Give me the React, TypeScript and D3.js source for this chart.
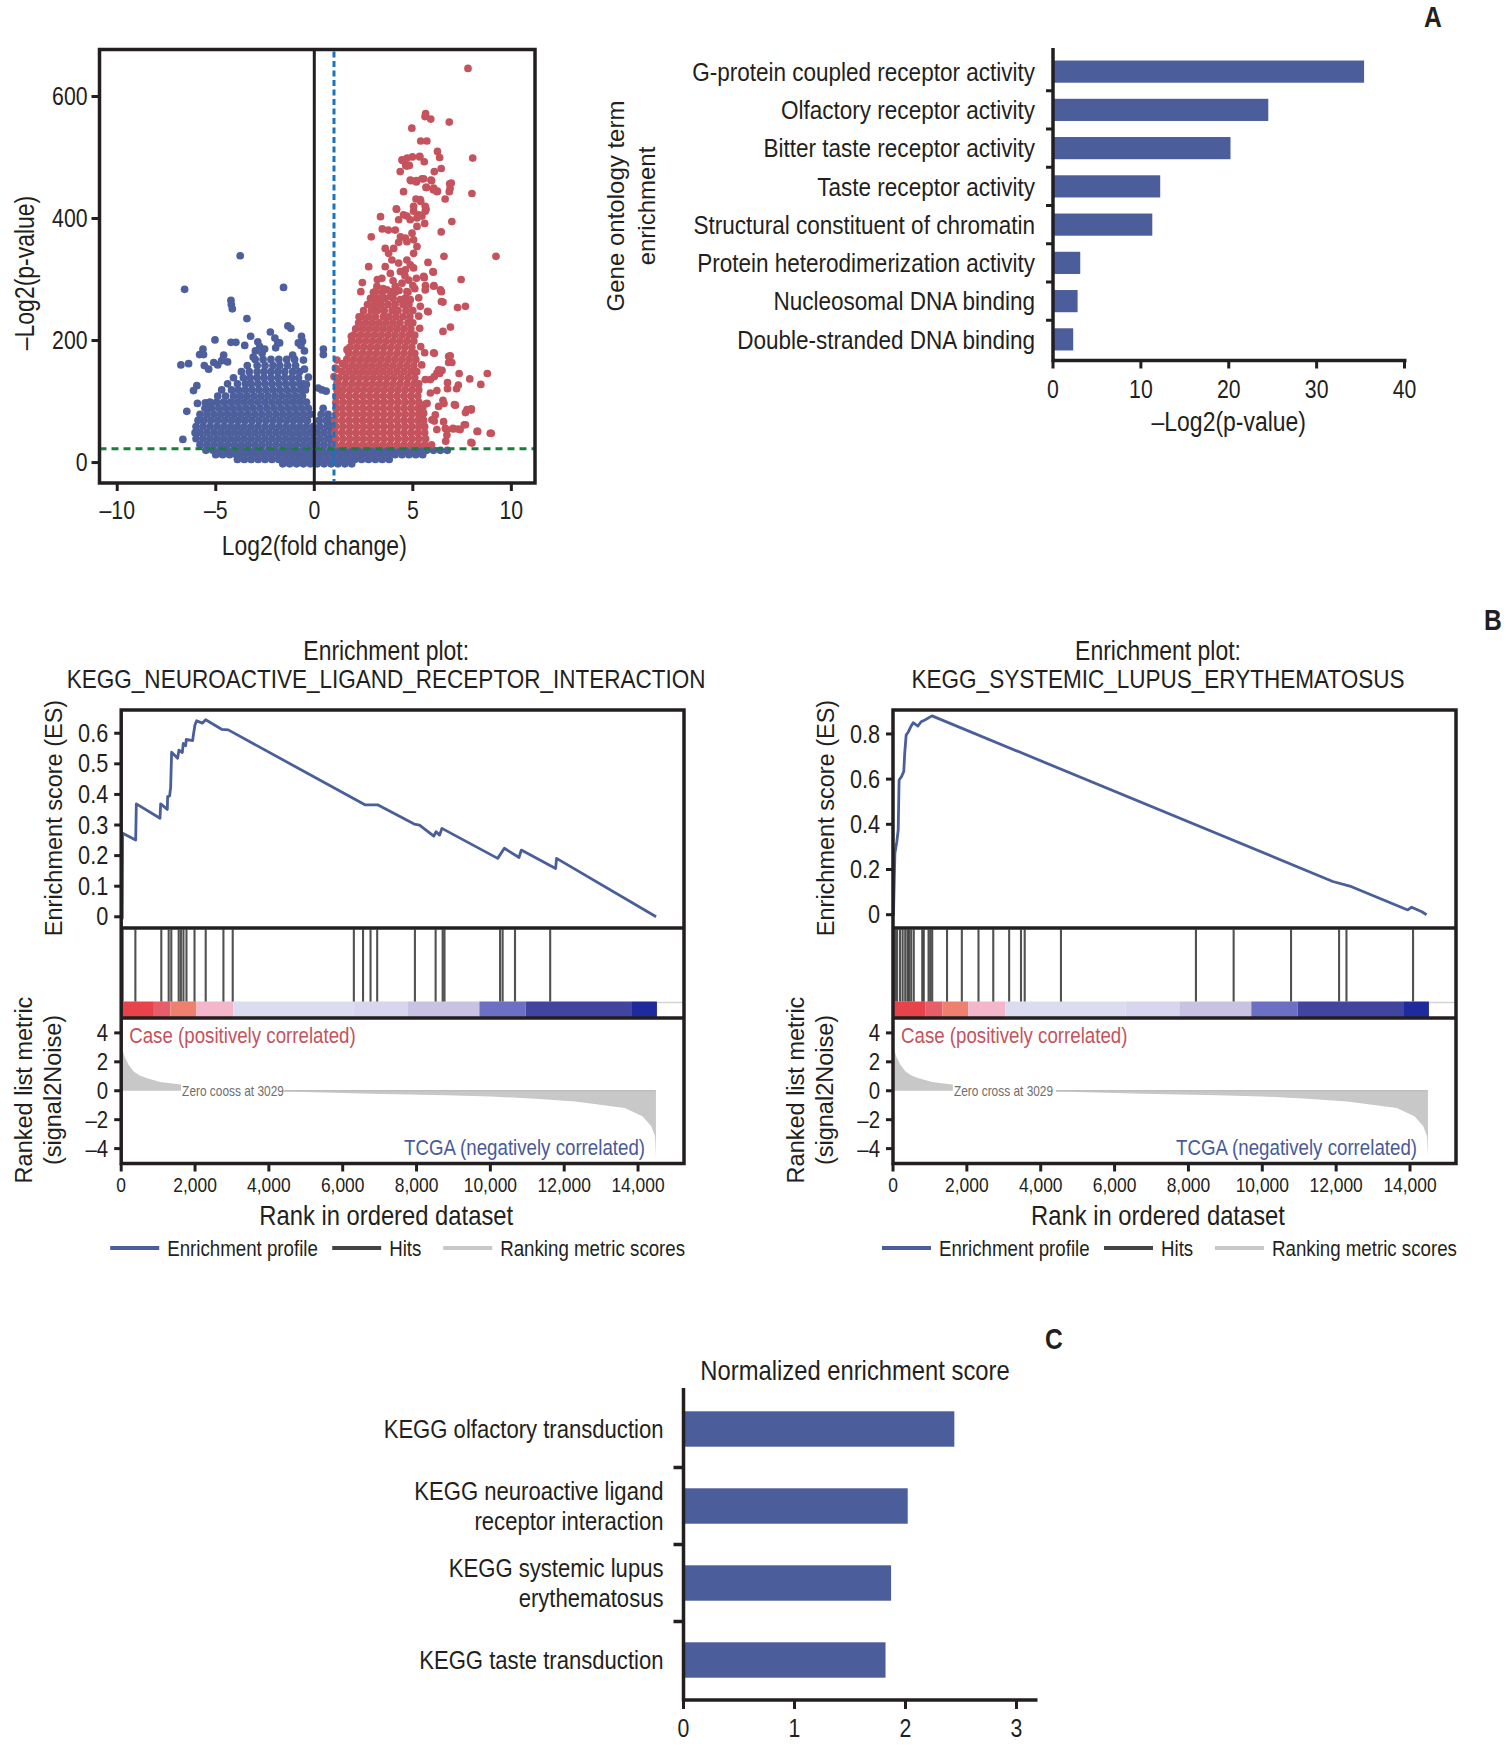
import React from "react";
import * as d3 from "d3";

const FONT = "'Liberation Sans',Arial,'DejaVu Sans',sans-serif";
const INK = "#231f20";
const BAR = "#4b5e9b";
const BLUE = "#4d5f9d";
const RED = "#c4535d";
const ESLINE = "#4a5f9a";
const GREY = "#c8c8c8";
const NARROW_SCALE = 0.85;

// ---------------- Panel A: volcano ----------------
const volcanoXTicks = [-10, -5, 0, 5, 10];
const volcanoYTicks = [0, 200, 400, 600];
const foldThreshold = 1;
const pThreshold = 22.6;

// dense rows of the blue (not up-regulated) cloud: [log2p, [log2fc...]]
const blueRows: [number, number[]][] = [
  [-2, [-1.6, -1.25, -0.9, -0.55, -0.2, 0.15, 0.5, 0.85, 1.2, 1.55, 1.9]],
  [5, [-3.9, -3.55, -3.2, -2.85, -2.5, -2.15, -1.8, -1.45, -1.1, -0.75, -0.4, -0.05, 0.3, 0.65, 1.0, 1.35, 1.7, 2.05, 2.4, 2.75, 3.1, 3.45, 3.8]],
  [13, [-5.0, -4.65, -4.3, -3.95, -3.6, -3.25, -2.9, -2.55, -2.2, -1.85, -1.5, -1.15, -0.8, -0.45, -0.1, 0.25, 0.6, 0.95, 1.3, 1.65, 2.0, 2.35, 2.7, 3.05, 3.4, 3.75, 4.1, 4.45, 4.8, 5.15, 5.5]],
  [20, [-5.5, -5.15, -4.8, -4.45, -4.1, -3.75, -3.4, -3.05, -2.7, -2.35, -2.0, -1.65, -1.3, -0.95, -0.6, -0.25, 0.1, 0.45, 0.8, 1.15, 1.5, 1.85, 2.2, 2.55, 2.9, 3.25, 3.6, 3.95, 4.3, 4.65, 5.0, 5.35, 5.7, 6.05, 6.4, 6.75]],
  [29, [-5.8, -5.45, -5.1, -4.75, -4.4, -4.05, -3.7, -3.35, -3.0, -2.65, -2.3, -1.95, -1.6, -1.25, -0.9, -0.55, -0.2, 0.15, 0.5, 0.85]],
  [39, [-6.0, -5.65, -5.3, -4.95, -4.6, -4.25, -3.9, -3.55, -3.2, -2.85, -2.5, -2.15, -1.8, -1.45, -1.1, -0.75, -0.4, -0.05, 0.3, 0.65, 0.9]],
  [49, [-6.05, -5.8, -5.45, -5.1, -4.75, -4.4, -4.05, -3.7, -3.35, -3.0, -2.65, -2.3, -1.95, -1.6, -1.25, -0.9, -0.55, -0.2, 0.15, 0.5, 0.85]],
  [59, [-6.0, -5.65, -5.3, -4.95, -4.6, -4.25, -3.9, -3.55, -3.2, -2.85, -2.5, -2.15, -1.8, -1.45, -1.1, -0.75, -0.4, -0.05, 0.3, 0.65, 0.9]],
  [69, [-5.9, -5.6, -5.25, -4.9, -4.55, -4.2, -3.85, -3.5, -3.15, -2.8, -2.45, -2.1, -1.75, -1.4, -1.05, -0.7, -0.35, 0.25, 0.6, 0.85]],
  [79, [-5.8, -5.45, -5.1, -4.75, -4.4, -4.05, -3.7, -3.35, -3.0, -2.65, -2.3, -1.95, -1.6, -1.25, -0.9, -0.55, -0.2, 0.35, 0.7]],
  [89, [-5.55, -5.2, -4.85, -4.5, -4.15, -3.8, -3.45, -3.1, -2.75, -2.4, -2.05, -1.7, -1.35, -1.0, -0.65, -0.3, 0.45]],
  [99, [-5.3, -4.95, -4.6, -4.25, -3.9, -3.55, -3.2, -2.85, -2.5, -2.15, -1.8, -1.45, -1.1, -0.75, -0.4]],
  [109, [-4.9, -4.5, -4.1, -3.75, -3.4, -3.05, -2.7, -2.35, -2.0, -1.65, -1.3, -0.95, -0.6]],
  [119, [-4.7, -4.2, -3.85, -3.5, -3.15, -2.8, -2.45, -2.1, -1.75, -1.4, -1.05, -0.7, -0.45]],
  [129, [-4.4, -3.9, -3.5, -3.2, -2.85, -2.5, -2.15, -1.8, -1.45, -1.1, -0.75, -0.55]],
  [139, [-4.1, -3.6, -3.25, -2.9, -2.55, -2.2, -1.85, -1.5, -1.15, -0.8]],
  [149, [-3.7, -3.3, -2.9, -2.55, -2.2, -1.85, -1.5, -1.1, -0.75]],
  [159, [-3.4, -2.9, -2.5, -2.1, -1.75, -1.35, -0.95]],
  [169, [-3.0, -2.6, -2.2, -1.8, -1.4, -1.0]],
];
const blueScatter: [number, number][] = [
  [-3.76, 339], [-6.58, 284], [-1.56, 287], [-4.23, 266], [-4.21, 259], [-4.16, 252], [-3.42, 236], [-1.34, 224], [-1.19, 220],
  [-2.23, 214], [-5.04, 201], [-3.23, 207], [-2.0, 204], [-1.85, 196], [-0.65, 207], [-0.6, 199], [-0.68, 192], [-0.81, 196],
  [0.46, 186], [0.46, 177], [-4.23, 197], [-3.98, 197], [-3.53, 192], [-2.87, 198], [-2.77, 190], [-2.99, 183], [-2.52, 186],
  [-2.65, 179], [-1.96, 188], [-1.76, 196], [-5.65, 186], [-5.82, 177], [-5.62, 177], [-6.77, 160], [-6.38, 162], [-5.58, 159],
  [-5.36, 153], [-4.9, 160], [-4.4, 165], [-5.96, 126], [-6.13, 118], [-5.93, 97], [-6.47, 84], [-6.67, 38], [-5.53, 98],
  [-5.24, 98], [-5.36, 89], [0.39, 119], [0.2, 122], [0.6, 117], [-0.5, 183], [-1.1, 176], [-4.6, 176], [-3.1, 173],
  [-0.55, 168], [-0.5, 153], [-5.1, 164], [-4.7, 167], [-0.3, 140], [-0.4, 128],
];
// dense rows of the red (up-regulated, significant) cloud
const redRows: [number, number[]][] = [
  [29, [1.05, 1.4, 1.75, 2.1, 2.45, 2.8, 3.15, 3.5, 3.85, 4.2, 4.55, 4.9, 5.25, 5.6, 5.95]],
  [39, [1.1, 1.45, 1.8, 2.15, 2.5, 2.85, 3.2, 3.55, 3.9, 4.25, 4.6, 4.95, 5.3, 5.65]],
  [49, [1.05, 1.4, 1.75, 2.1, 2.45, 2.8, 3.15, 3.5, 3.85, 4.2, 4.55, 4.9, 5.25, 5.6]],
  [59, [1.1, 1.45, 1.8, 2.15, 2.5, 2.85, 3.2, 3.55, 3.9, 4.25, 4.6, 4.95, 5.3, 5.6]],
  [69, [1.05, 1.4, 1.75, 2.1, 2.45, 2.8, 3.15, 3.5, 3.85, 4.2, 4.55, 4.9, 5.25, 5.55]],
  [79, [1.1, 1.45, 1.8, 2.15, 2.5, 2.85, 3.2, 3.55, 3.9, 4.25, 4.6, 4.95, 5.3, 5.5]],
  [89, [1.1, 1.4, 1.75, 2.1, 2.45, 2.8, 3.15, 3.5, 3.85, 4.2, 4.55, 4.9, 5.25, 5.5]],
  [99, [1.1, 1.45, 1.8, 2.15, 2.5, 2.85, 3.2, 3.55, 3.9, 4.25, 4.6, 4.95, 5.3]],
  [109, [1.1, 1.4, 1.75, 2.1, 2.45, 2.8, 3.15, 3.5, 3.85, 4.2, 4.55, 4.9, 5.25]],
  [119, [1.15, 1.45, 1.8, 2.15, 2.5, 2.85, 3.2, 3.55, 3.9, 4.25, 4.6, 4.95, 5.3]],
  [129, [1.2, 1.55, 1.9, 2.25, 2.6, 2.95, 3.3, 3.65, 4.0, 4.35, 4.7, 5.05, 5.3]],
  [139, [1.25, 1.6, 1.95, 2.3, 2.65, 3.0, 3.35, 3.7, 4.05, 4.4, 4.75, 5.1]],
  [149, [1.4, 1.75, 2.1, 2.45, 2.8, 3.15, 3.5, 3.85, 4.2, 4.55, 4.9, 5.2]],
  [159, [1.55, 1.9, 2.25, 2.6, 2.95, 3.3, 3.65, 4.0, 4.35, 4.7, 5.05]],
  [169, [1.65, 2.0, 2.35, 2.7, 3.05, 3.4, 3.75, 4.1, 4.45, 4.8, 5.15]],
  [179, [1.75, 2.1, 2.45, 2.8, 3.15, 3.5, 3.85, 4.2, 4.55, 4.9, 5.1]],
  [189, [1.8, 2.15, 2.5, 2.85, 3.2, 3.55, 3.9, 4.25, 4.6, 4.95]],
  [199, [1.9, 2.25, 2.6, 2.95, 3.3, 3.65, 4.0, 4.35, 4.7, 5.05]],
  [209, [2.0, 2.35, 2.7, 3.05, 3.4, 3.75, 4.1, 4.45, 4.8, 5.1]],
  [219, [2.1, 2.45, 2.8, 3.15, 3.5, 3.85, 4.2, 4.55, 4.9]],
  [229, [2.25, 2.6, 2.95, 3.3, 3.65, 4.0, 4.35, 4.75, 5.0]],
  [239, [2.4, 2.75, 3.1, 3.5, 3.8, 4.15, 4.5, 4.85]],
  [249, [2.5, 2.9, 3.2, 3.55, 3.95, 4.25, 4.65, 5.0]],
  [259, [2.7, 3.05, 3.4, 3.75, 4.1, 4.5, 4.8]],
  [269, [2.85, 3.25, 3.6, 4.0, 4.6]],
  [279, [3.0, 3.45, 4.1, 4.75]],
];
const redScatter: [number, number][] = [
  [7.8, 646], [5.65, 572], [5.91, 563], [6.85, 558], [4.95, 548], [5.62, 567], [5.4, 527], [5.71, 527], [6.25, 510], [6.36, 500],
  [8.04, 499], [4.49, 495], [4.71, 499], [4.98, 501], [4.64, 487], [4.82, 487], [5.58, 493], [5.35, 501], [4.36, 477], [6.09, 477],
  [6.44, 482], [4.91, 462], [5.18, 462], [5.55, 465], [5.95, 462], [5.67, 451], [6.04, 447], [6.25, 445], [6.95, 458], [6.89, 449],
  [6.85, 444], [8.0, 441], [6.64, 432], [4.53, 444], [5.16, 432], [5.4, 428], [5.67, 415], [4.18, 415], [3.36, 403], [6.98, 395],
  [6.44, 378], [2.89, 370], [3.45, 383], [3.76, 381], [9.22, 338], [6.58, 338], [2.76, 321], [7.45, 300], [2.44, 295], [2.36, 280],
  [6.04, 312], [5.58, 303], [5.64, 290], [6.07, 290], [6.45, 280], [6.53, 263], [7.27, 254], [7.67, 256], [2.27, 239], [5.78, 247],
  [6.09, 179], [6.82, 174], [6.98, 164], [6.53, 215], [6.91, 222], [6.36, 146], [6.22, 118], [6.58, 97], [6.76, 121], [7.35, 146],
  [7.89, 137], [7.31, 127], [7.22, 121], [6.76, 131], [8.78, 146], [8.45, 128], [7.16, 94], [7.67, 82], [7.96, 86], [7.67, 62],
  [7.05, 55], [7.4, 54], [8.29, 51], [8.98, 48], [8.0, 32], [6.09, 68], [6.22, 54], [6.73, 54], [6.67, 35], [5.64, 96],
  [1.88, 207], [1.66, 185], [1.44, 162], [1.15, 153],
  [4.16, 416], [4.28, 398], [4.7, 404], [5.04, 412], [5.3, 406], [5.63, 412], [5.6, 392], [5.21, 387], [4.96, 376], [4.62, 368],
  [4.28, 361], [4.03, 351], [3.77, 343], [3.94, 332], [4.28, 327], [4.7, 332], [4.87, 324], [5.04, 343], [5.21, 354], [5.77, 328],
  [6.02, 313], [5.55, 305], [5.18, 302], [4.79, 299], [4.45, 294], [4.11, 289], [3.69, 283], [3.43, 302], [3.18, 289], [2.96, 270],
  [3.35, 267], [3.86, 272], [4.37, 267], [4.87, 267], [5.3, 270], [5.63, 283], [6.06, 289], [6.4, 283], [6.45, 264], [5.75, 248],
  [5.38, 256], [4.45, 496], [4.7, 486], [5.35, 502], [4.87, 463], [5.18, 460], [5.46, 465], [5.69, 451], [5.92, 463], [6.06, 450],
  [6.23, 444], [6.87, 457], [5.38, 431], [5.04, 420], [5.63, 420], [5.46, 404], [4.53, 406], [4.87, 398], [5.21, 401], [4.11, 381],
  [4.37, 370], [4.7, 362], [5.04, 365], [3.6, 351], [4.37, 313], [4.62, 316], [5.04, 319], [3.86, 310], [3.6, 321],
  [6.9, 175], [6.82, 164], [6.06, 180], [6.23, 147], [6.48, 151], [6.31, 92], [6.53, 102], [6.14, 78], [7.11, 95], [7.75, 87],
  [7.97, 88], [7.04, 56], [7.29, 55], [7.61, 62], [8.26, 51], [8.93, 48], [7.95, 33], [6.73, 45], [6.65, 56], [6.56, 67],
  [5.89, 114], [5.72, 97], [5.55, 81], [5.97, 70], [5.63, 136], [5.89, 136], [6.31, 152], [6.09, 141], [1.07, 155], [1.0, 141],
  [1.15, 130], [1.15, 168], [3.1, 280], [3.5, 285], [3.9, 280], [4.3, 282], [4.7, 280], [5.1, 285], [3.2, 300], [4.0, 298],
  [4.6, 306], [5.0, 290], [5.45, 160], [5.4, 190], [5.35, 220], [5.3, 240], [5.6, 180],
];

// ---------------- Panel A: GO bars ----------------
const goTerms = [
  "G-protein coupled receptor activity",
  "Olfactory receptor activity",
  "Bitter taste receptor activity",
  "Taste receptor activity",
  "Structural constituent of chromatin",
  "Protein heterodimerization activity",
  "Nucleosomal DNA binding",
  "Double-stranded DNA binding",
];
const goValues = [35.4, 24.5, 20.2, 12.2, 11.3, 3.1, 2.8, 2.3];
const goTicks = [0, 10, 20, 30, 40];

// ---------------- Panel B: GSEA ----------------
const rankTicks = [0, 2000, 4000, 6000, 8000, 10000, 12000, 14000];
const neuroTicks = [0, 0.1, 0.2, 0.3, 0.4, 0.5, 0.6];
const sleTicks = [0, 0.2, 0.4, 0.6, 0.8];
const metricTicks = [-4, -2, 0, 2, 4];

const neuroES: [number, number][] = [
  [0, 0], [30, -0.005], [40, 0.273], [392, 0.251], [410, 0.369], [1051, 0.322], [1069, 0.369], [1249, 0.351], [1258, 0.393],
  [1312, 0.395], [1339, 0.423], [1366, 0.538], [1528, 0.518], [1564, 0.545], [1655, 0.537], [1682, 0.567], [1745, 0.559],
  [1763, 0.58], [1935, 0.576], [1962, 0.6], [1998, 0.627], [2043, 0.641], [2197, 0.633], [2287, 0.644], [2721, 0.613],
  [2901, 0.611], [6602, 0.366], [6946, 0.366], [7937, 0.303], [8081, 0.3], [8468, 0.264], [8530, 0.278], [8625, 0.267],
  [8687, 0.289], [10198, 0.191], [10379, 0.224], [10777, 0.194], [10837, 0.218], [11768, 0.158], [11793, 0.191], [14490, 0.0],
];
const neuroHits = [40, 384, 1086, 1286, 1357, 1557, 1617, 1686, 1768, 1986, 2289, 2769, 3021, 6302, 6551, 6754, 6934, 7956, 8517, 8708, 8757, 10263, 10332, 10667, 11620];

const sleES: [number, number][] = [
  [0, 0], [13, 0], [51, 0.272], [103, 0.323], [141, 0.375], [165, 0.596], [230, 0.611], [292, 0.634], [317, 0.714], [356, 0.795],
  [419, 0.81], [481, 0.832], [546, 0.85], [673, 0.835], [762, 0.854], [863, 0.862], [1055, 0.88], [11909, 0.147], [12417, 0.124],
  [13940, 0.021], [14043, 0.033], [14321, 0.013], [14448, 0.0],
];
const sleHits = [20, 61, 111, 191, 261, 331, 392, 432, 492, 562, 792, 833, 963, 1012, 1062, 1463, 1864, 2315, 2715, 3145, 3466, 3566, 4548, 8203, 9224, 10778, 12079, 12279, 14082];

const metricCurve: [number, number][] = [
  [0, 2.9], [40, 2.75], [100, 2.3], [200, 1.8], [340, 1.33], [500, 1.05], [700, 0.87], [1060, 0.6], [1550, 0.45], [2030, 0.3],
  [2500, 0.17], [3029, 0], [4450, -0.06], [6750, -0.2], [8800, -0.31], [10000, -0.39], [11220, -0.55], [12300, -0.74],
  [13640, -1.2], [14120, -1.77], [14360, -2.46], [14460, -3.15], [14485, -4.64],
];
const heatBreaks = [0, 885, 1333, 2038, 3037, 6302, 7753, 9702, 10955, 13814, 14512];
const heatColors = ["#e8434b", "#e85d6a", "#ee8070", "#f4b6cb", "#dcdcf0", "#d8d6ee", "#c9c3e3", "#6b70c2", "#41459f", "#1f2a9c"];

// ---------------- Panel C ----------------
const keggTerms = [
  ["KEGG olfactory transduction"],
  ["KEGG neuroactive ligand", "receptor interaction"],
  ["KEGG systemic lupus", "erythematosus"],
  ["KEGG taste transduction"],
];
const nesValues = [2.44, 2.02, 1.87, 1.82];
const nesTicks = [0, 1, 2, 3];

const dash = (d: number) => (d < 0 ? "\u2013" + Math.abs(d) : String(d));

// condensed text: regular face compressed horizontally
function NT(props: {
  x: number; y: number; size: number; anchor?: "start" | "middle" | "end"; fill?: string;
  rotate?: number; weight?: string; sx?: number; children: React.ReactNode;
}) {
  const { x, y, size, anchor = "start", fill = INK, rotate, weight, sx = NARROW_SCALE, children } = props;
  const t = `translate(${x},${y})${rotate ? ` rotate(${rotate})` : ""} scale(${sx},1)`;
  return (
    <text transform={t} textAnchor={anchor} dominantBaseline="central" fontSize={size} fill={fill} fontWeight={weight}>
      {children}
    </text>
  );
}

function Volcano() {
  const x = d3.scaleLinear().domain([-10.9, 11.2]).range([99.5, 535]);
  const y = d3.scaleLinear().domain([-33.5, 677]).range([483, 49.5]);
  const blue: [number, number][] = [...blueRows.flatMap(([yy, xs]) => xs.map((xx) => [xx, yy] as [number, number])), ...blueScatter];
  const red: [number, number][] = [...redRows.flatMap(([yy, xs]) => xs.map((xx) => [xx, yy] as [number, number])), ...redScatter];
  const [x0, x1] = x.range();
  const [y0, y1] = y.range();
  const r = 3.85;
  return (
    <g>
      {blue.map((d, i) => (
        <circle key={"b" + i} cx={x(d[0])} cy={y(d[1])} r={r} fill={BLUE} />
      ))}
      {red.map((d, i) => (
        <circle key={"r" + i} cx={x(d[0])} cy={y(d[1])} r={r} fill={RED} />
      ))}
      <line x1={x(0)} x2={x(0)} y1={y1} y2={y0} stroke={INK} strokeWidth={3} />
      <line x1={x(foldThreshold)} x2={x(foldThreshold)} y1={y1 + 2} y2={y0 - 2} stroke="#1a74bb" strokeWidth={3} strokeDasharray="6,3.5" />
      <line x1={x0} x2={x1} y1={y(pThreshold)} y2={y(pThreshold)} stroke="#1a7f3c" strokeWidth={3} strokeDasharray="7,5" />
      <rect x={x0} y={y1} width={x1 - x0} height={y0 - y1} fill="none" stroke={INK} strokeWidth={3.5} />
      {volcanoYTicks.map((t) => (
        <g key={"vy" + t}>
          <line x1={x0 - 8} x2={x0} y1={y(t)} y2={y(t)} stroke={INK} strokeWidth={3} />
          <NT x={x0 - 12} y={y(t)} anchor="end" size={25}>{t}</NT>
        </g>
      ))}
      {volcanoXTicks.map((t) => (
        <g key={"vx" + t}>
          <line x1={x(t)} x2={x(t)} y1={y0} y2={y0 + 8} stroke={INK} strokeWidth={3} />
          <NT x={x(t)} y={510} anchor="middle" size={25}>{dash(t)}</NT>
        </g>
      ))}
      <NT x={x(0)} y={545} anchor="middle" size={27}>Log2(fold change)</NT>
      <NT x={24} y={273} rotate={-90} anchor="middle" size={27}>{"\u2013Log2(p-value)"}</NT>
    </g>
  );
}

function GoBars() {
  const x = d3.scaleLinear().domain([0, 40]).range([1053, 1404.5]);
  const y = d3.scaleBand<string>().domain(goTerms).range([52.5, 358.5]).paddingInner(0.42).paddingOuter(0.21);
  const axisY = 360.5;
  const gap = (y.step() * 0.42) / 2;
  return (
    <g>
      {goTerms.map((t, i) => (
        <rect key={t} x={x(0)} y={y(t)!} width={x(goValues[i]) - x(0)} height={y.bandwidth()} fill={BAR} />
      ))}
      {goTerms.map((t) => (
        <NT key={"l" + t} x={1035} y={y(t)! + y.bandwidth() / 2} anchor="end" size={26.5}>{t}</NT>
      ))}
      {goTerms.slice(1).map((t) => (
        <line key={"t" + t} x1={x(0) - 7} x2={x(0)} y1={y(t)! - gap} y2={y(t)! - gap} stroke={INK} strokeWidth={3} />
      ))}
      <line x1={x(0)} x2={x(0)} y1={48} y2={axisY + 1.5} stroke={INK} strokeWidth={3.5} />
      <line x1={x(0)} x2={x(40) + 2} y1={axisY} y2={axisY} stroke={INK} strokeWidth={3.5} />
      {goTicks.map((t) => (
        <g key={"gx" + t}>
          <line x1={x(t)} x2={x(t)} y1={axisY} y2={axisY + 8} stroke={INK} strokeWidth={3} />
          <NT x={x(t)} y={389} anchor="middle" size={25}>{t}</NT>
        </g>
      ))}
      <NT x={(x(0) + x(40)) / 2} y={421.5} anchor="middle" size={27}>{"\u2013Log2(p-value)"}</NT>
      <g fontSize={24} fill={INK}>
        <text transform="translate(615,206) rotate(-90)" textAnchor="middle" dominantBaseline="central">Gene ontology term</text>
        <text transform="translate(646,206) rotate(-90)" textAnchor="middle" dominantBaseline="central">enrichment</text>
      </g>
    </g>
  );
}

type GseaProps = {
  L: number;
  R: number;
  name: string;
  es: [number, number][];
  esDomain: [number, number];
  esTicks: number[];
  hits: number[];
  zeroText: string;
};

function Gsea({ L, R, name, es, esDomain, esTicks, hits, zeroText }: GseaProps) {
  const top = 710, esBottom = 928, hitBottom = 1018, bottom = 1163.5;
  const xr = d3.scaleLinear().domain([0, 15245]).range([L, R]);
  const ye = d3.scaleLinear().domain(esDomain).range([927.5, top]);
  const ym = d3.scaleLinear().domain([-5.03, 5.03]).range([bottom, hitBottom]);
  const esPath = d3.line<[number, number]>().x((d) => xr(d[0])).y((d) => ye(d[1]))(es) || "";
  const area = d3.area<[number, number]>().x((d) => xr(d[0])).y0(ym(0)).y1((d) => ym(d[1]))(metricCurve) || "";
  const cx = L + 265;
  const barTop = 1001.5, barH = 15.5;
  const lastRank = heatBreaks[heatBreaks.length - 1];
  const fmt = (d: number) => (d === 0 ? "0" : d.toFixed(1));
  return (
    <g>
      <NT x={cx} y={650} anchor="middle" size={27}>Enrichment plot:</NT>
      <NT x={cx} y={679} anchor="middle" size={26.5}>{name}</NT>
      <path d={area} fill={GREY} />
      <line x1={xr(3029)} x2={xr(metricCurve[metricCurve.length - 1][0])} y1={ym(0)} y2={ym(0)} stroke="#bdbdbd" strokeWidth={1.5} />
      <rect x={xr(1620)} y={ym(0) - 8} width={103} height={16} fill="#fff" />
      <NT x={xr(1650)} y={ym(0)} size={14} fill="#6e6e6e">{zeroText}</NT>
      <NT x={L + 8} y={1035} size={22} fill={RED}>Case (positively correlated)</NT>
      <NT x={R - 39} y={1147} anchor="end" size={22} fill="#4a5a98">TCGA (negatively correlated)</NT>
      {heatColors.map((c, i) => (
        <rect key={"h" + i} x={xr(heatBreaks[i])} y={barTop} width={xr(heatBreaks[i + 1]) - xr(heatBreaks[i])} height={barH} fill={c} />
      ))}
      <line x1={xr(lastRank)} x2={R} y1={barTop + 1} y2={barTop + 1} stroke="#d2d2d2" strokeWidth={1.5} />
      {hits.map((h, i) => (
        <line key={"hit" + i} x1={xr(h)} x2={xr(h)} y1={esBottom + 1.5} y2={barTop} stroke="#333" strokeWidth={2.1} strokeOpacity={0.85} />
      ))}
      <path d={esPath} fill="none" stroke={ESLINE} strokeWidth={2.8} strokeLinejoin="round" />
      <rect x={L} y={top} width={R - L} height={bottom - top} fill="none" stroke={INK} strokeWidth={3.5} />
      <line x1={L} x2={R} y1={esBottom} y2={esBottom} stroke={INK} strokeWidth={3.5} />
      <line x1={L} x2={R} y1={hitBottom} y2={hitBottom} stroke={INK} strokeWidth={3.5} />
      {esTicks.map((t) => (
        <g key={"et" + t}>
          <line x1={L - 7} x2={L} y1={ye(t)} y2={ye(t)} stroke={INK} strokeWidth={3} />
          <NT x={L - 13} y={ye(t)} anchor="end" size={25.5}>{fmt(t)}</NT>
        </g>
      ))}
      {metricTicks.map((t) => (
        <g key={"mt" + t}>
          <line x1={L - 7} x2={L} y1={ym(t)} y2={ym(t)} stroke={INK} strokeWidth={3} />
          <NT x={L - 13} y={ym(t)} anchor="end" size={24}>{dash(t)}</NT>
        </g>
      ))}
      {rankTicks.map((t) => (
        <g key={"rt" + t}>
          <line x1={xr(t)} x2={xr(t)} y1={bottom} y2={bottom + 8} stroke={INK} strokeWidth={3} />
          <NT x={xr(t)} y={1185} anchor="middle" size={20.5}>{d3.format(",")(t)}</NT>
        </g>
      ))}
      <NT x={cx} y={1215} anchor="middle" size={28}>Rank in ordered dataset</NT>
      <g fontSize={23.5} fill={INK}>
        <text transform={`translate(${L - 67},818) rotate(-90)`} textAnchor="middle" dominantBaseline="central">Enrichment score (ES)</text>
        <text transform={`translate(${L - 97},1090) rotate(-90)`} textAnchor="middle" dominantBaseline="central">Ranked list metric</text>
        <text transform={`translate(${L - 68},1090) rotate(-90)`} textAnchor="middle" dominantBaseline="central">(signal2Noise)</text>
      </g>
      <line x1={L - 11} x2={L + 38} y1={1248} y2={1248} stroke={ESLINE} strokeWidth={4} />
      <NT x={L + 46} y={1248} size={22}>Enrichment profile</NT>
      <line x1={L + 211} x2={L + 260} y1={1248} y2={1248} stroke="#444" strokeWidth={4} />
      <NT x={L + 268} y={1248} size={22}>Hits</NT>
      <line x1={L + 322} x2={L + 371} y1={1248} y2={1248} stroke={GREY} strokeWidth={4} />
      <NT x={L + 379} y={1248} size={22}>Ranking metric scores</NT>
    </g>
  );
}

function NesBars() {
  const x = d3.scaleLinear().domain([0, 3]).range([683.5, 1016.5]);
  const names = keggTerms.map((t) => t.join(" "));
  const y = d3.scaleBand<string>().domain(names).range([1390.5, 1698.5]).paddingInner(0.54).paddingOuter(0.27);
  const axisY = 1700;
  const gap = (y.step() * 0.54) / 2;
  return (
    <g>
      <NT x={855} y={1370} anchor="middle" size={28}>Normalized enrichment score</NT>
      {names.map((n, i) => (
        <rect key={n} x={x(0)} y={y(n)!} width={x(nesValues[i]) - x(0)} height={y.bandwidth()} fill={BAR} />
      ))}
      {keggTerms.map((lines, i) => {
        const c = y(names[i])! + y.bandwidth() / 2;
        return lines.map((l, j) => (
          <NT key={l} x={663.5} y={c + (j - (lines.length - 1) / 2) * 30} anchor="end" size={26}>{l}</NT>
        ));
      })}
      {names.slice(1).map((n) => (
        <line key={"t" + n} x1={x(0) - 10} x2={x(0)} y1={y(n)! - gap} y2={y(n)! - gap} stroke={INK} strokeWidth={3.5} />
      ))}
      <line x1={x(0)} x2={x(0)} y1={1388} y2={axisY + 1.5} stroke={INK} strokeWidth={3.5} />
      <line x1={x(0)} x2={1037.5} y1={axisY} y2={axisY} stroke={INK} strokeWidth={3.5} />
      {nesTicks.map((t) => (
        <g key={"nx" + t}>
          <line x1={x(t)} x2={x(t)} y1={axisY} y2={axisY + 9} stroke={INK} strokeWidth={3} />
          <NT x={x(t)} y={1728} anchor="middle" size={25}>{t}</NT>
        </g>
      ))}
    </g>
  );
}

export default function App() {
  return (
    <svg
      width={1506}
      height={1749}
      viewBox="0 0 1506 1749"
      style={{ position: "absolute", left: 0, top: 0, background: "#fff" }}
      fontFamily={FONT}
      fill={INK}
    >
      <rect x={0} y={0} width={1506} height={1749} fill="#fff" />
      <Volcano />
      <GoBars />
      <Gsea L={121.2} R={684} name="KEGG_NEUROACTIVE_LIGAND_RECEPTOR_INTERACTION" es={neuroES} esDomain={[-0.035, 0.676]} esTicks={neuroTicks} hits={neuroHits} zeroText="Zero cooss at 3029" />
      <Gsea L={893} R={1456} name="KEGG_SYSTEMIC_LUPUS_ERYTHEMATOSUS" es={sleES} esDomain={[-0.0567, 0.906]} esTicks={sleTicks} hits={sleHits} zeroText="Zero cross at 3029" />
      <NesBars />
      <NT x={1433} y={17} anchor="middle" size={29} weight="bold">A</NT>
      <NT x={1493} y={620} anchor="middle" size={29} weight="bold">B</NT>
      <NT x={1054} y={1339} anchor="middle" size={29} weight="bold">C</NT>
    </svg>
  );
}
